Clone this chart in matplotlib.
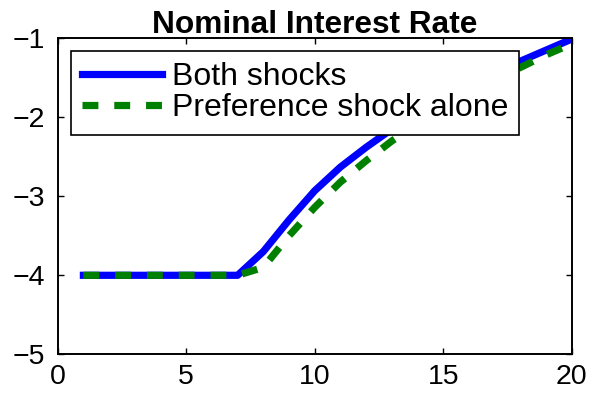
import matplotlib
matplotlib.use("Agg")
import matplotlib.pyplot as plt

x = list(range(1, 21))
both = [-4, -4, -4, -4, -4, -4, -4, -3.7, -3.3, -2.93, -2.63, -2.38, -2.15,
        -1.95, -1.77, -1.6, -1.44, -1.29, -1.15, -1.01]
pref = [-4, -4, -4, -4, -4, -4, -4, -3.9, -3.5, -3.14, -2.82, -2.55, -2.3,
        -2.08, -1.88, -1.7, -1.53, -1.37, -1.21, -1.07]
xticks = [0, 5, 10, 15, 20]
yticks = [-5, -4, -3, -2, -1]

plt.rcParams['font.family'] = ['Liberation Sans', 'DejaVu Sans']

fig = plt.figure(figsize=(6.01, 4.03), dpi=100)
l, r, t, b = 57.7, 571.7, 38.3, 354.3
ax = fig.add_axes([l / 601, 1 - b / 403, (r - l) / 601, (b - t) / 403])
ax.plot(x, both, color='#0000ff', lw=5.2, label='Both shocks')
ax.plot(x, pref, color='#008000', lw=5.2, ls=(0, (2.2, 2.2)), label='Preference shock alone')
ax.set_xlim(0, 20)
ax.set_ylim(-5, -1)
ax.set_xticks(xticks)
ax.set_yticks(yticks)
ax.tick_params(direction='in', top=True, right=True, labelsize=20.5, length=4, width=1)
ax.tick_params(axis='x', pad=7)
ax.tick_params(axis='y', pad=9)
for s in ax.spines.values():
    s.set_linewidth(1.4)
ax.set_title('Nominal Interest Rate', fontsize=22.8, fontweight='bold', pad=3.5)
leg = ax.legend(loc='upper left', fontsize=23, handlelength=2.5, fancybox=False,
                edgecolor='black', framealpha=1, borderpad=0.35, labelspacing=0.05,
                handletextpad=0.3, bbox_to_anchor=(13.3 / (r - l), 1 - 12.4 / (b - t)),
                borderaxespad=0)
leg.get_frame().set_linewidth(1.2)
fig.savefig('out.png', dpi=100)
